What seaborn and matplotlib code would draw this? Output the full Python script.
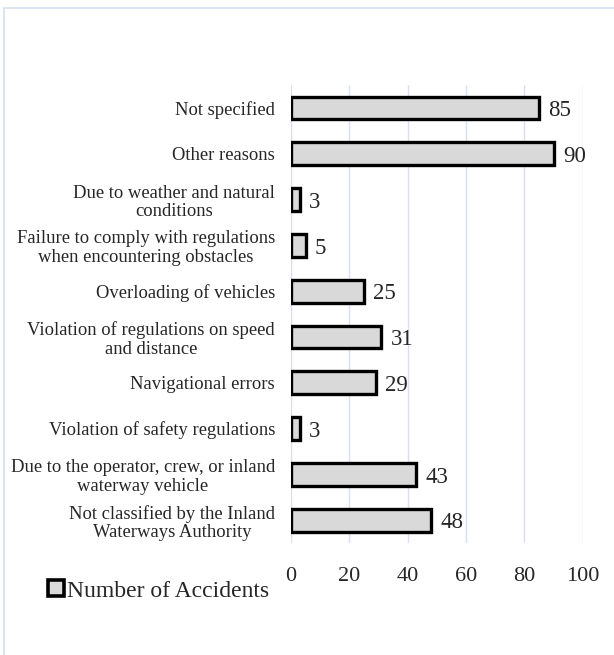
import matplotlib
matplotlib.use("Agg")
import matplotlib.pyplot as plt
import seaborn as sns
import pandas as pd
from matplotlib.patches import Rectangle, Patch

categories = [
    "Not specified",
    "Other reasons",
    "Due to weather and natural\nconditions",
    "Failure to comply with regulations\nwhen encountering obstacles",
    "Overloading of vehicles",
    "Violation of regulations on speed\nand distance",
    "Navigational errors",
    "Violation of safety regulations",
    "Due to the operator, crew, or inland\nwaterway vehicle",
    "Not classified by the Inland\nWaterways Authority",
]
values = [85, 90, 3, 5, 25, 31, 29, 3, 43, 48]
xticks = [0, 20, 40, 60, 80, 100]
series_name = "Number of Accidents"

sns.set_style("white")
plt.rcParams["font.family"] = ["Liberation Serif", "DejaVu Serif"]

df = pd.DataFrame({"cat": categories, "val": values})

fig = plt.figure(figsize=(6.14, 6.55), dpi=100)
ax = fig.add_axes([0.474, 0.171, 0.475, 0.699])

sns.barplot(data=df, y="cat", x="val", orient="h", color="#d9d9d9",
            edgecolor="black", linewidth=2.4, width=0.5, ax=ax, saturation=1)

ax.set_xlim(0, 100)
ax.set_xticks(xticks)
ax.set_xticklabels([str(t) for t in xticks], fontsize=16)
ax.set_xlabel("")
ax.set_ylabel("")
ax.tick_params(axis="y", labelsize=13.4, length=0, pad=11.5)
ax.tick_params(axis="x", length=0, pad=17)
for lbl in ax.get_yticklabels():
    lbl.set_multialignment("center")
    lbl.set_linespacing(1.1)
for s in ax.spines.values():
    s.set_visible(False)
ax.grid(axis="x", color="#d6e0f0", linewidth=1.0)
ax.set_axisbelow(True)

for i, v in enumerate(values):
    ax.text(v + 3.2, i + 0.06, str(v), va="center", ha="left", fontsize=16.5)

handle = Patch(facecolor="#d9d9d9", edgecolor="black", linewidth=2.6)
fig.legend([handle], [series_name], loc="center left",
           bbox_to_anchor=(0.078, 0.098), frameon=False, fontsize=17,
           handlelength=0.68, handleheight=0.68, handletextpad=0.15,
           borderpad=0, borderaxespad=0)

fig.patches.append(Rectangle((0.007, -0.1), 1.2, 1.088, transform=fig.transFigure,
                             fill=False, edgecolor="#d6e0f0", linewidth=1.2))

fig.savefig("out.png", dpi=100)
